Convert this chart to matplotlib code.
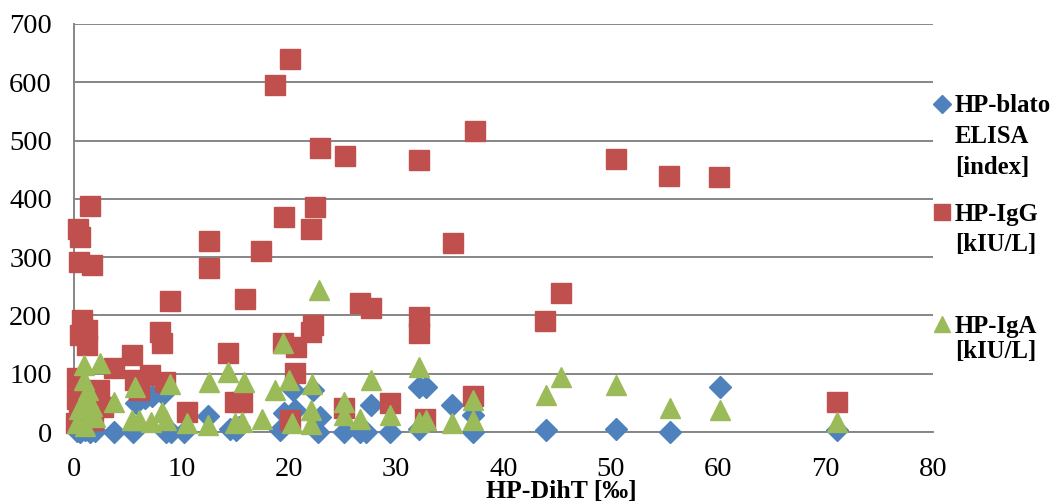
import matplotlib
matplotlib.use("Agg")
import matplotlib.pyplot as plt
from matplotlib.lines import Line2D

# ---------------- data ----------------
elisa_x = [0.3, 0.6, 1.0, 1.5, 2.0, 1.2, 3.7, 5.5, 5.8, 6.6, 7.3, 8.3, 8.6, 9.0,
           10.2, 12.5, 14.5, 15.1, 15.4, 19.2, 19.6, 20.4, 20.6, 22.3, 22.9, 22.7,
           25.1, 26.6, 27.2, 27.7, 29.4, 32.1, 32.8, 32.1, 35.2, 37.2, 37.2, 44.0,
           50.5, 55.5, 60.2, 71.1]
elisa_y = [2, 0, 3, 0, 2, 6, 0, 0, 49, 58, 62, 66, 0, 0,
           0, 28, 5, 3, 8, 3, 32, 72, 38, 72, 26, 0,
           0, 0, 0, 46, 0, 78, 77, 6, 46, 29, 0, 3,
           5, 0, 77, 3]

igg_x = [0.4, 0.56, 0.47, 1.65, 1.5, 0.7, 0.56, 1.2, 1.2, 0.25, 0.3, 0.5, 0.2,
         1.0, 1.5, 2.0, 2.3, 2.7, 1.8, 3.7, 5.4, 5.7, 6.1, 7.1, 8.5, 8.0, 8.2,
         8.9, 10.5, 12.6, 12.6, 14.3, 15.0, 15.6, 15.9, 17.4, 18.7, 19.5, 19.6,
         20.1, 20.6, 20.7, 20.1, 22.1, 22.4, 22.3, 22.1, 22.9, 25.2, 25.1, 26.6,
         27.7, 29.4, 32.1, 32.1, 32.1, 32.7, 35.3, 37.3, 37.2, 43.9, 45.4, 50.5,
         55.4, 60.1, 71.1]
igg_y = [349, 335, 292, 286, 388, 192, 166, 175, 149, 92, 56, 35, 15,
         60, 45, 55, 72, 43, 20, 109, 132, 89, 72, 98, 86, 172, 152,
         224, 35, 328, 281, 136, 52, 52, 228, 311, 596, 152, 369,
         640, 101, 146, 21, 349, 386, 183, 172, 487, 473, 41, 222,
         212, 49, 466, 197, 169, 23, 325, 517, 61, 191, 238, 468,
         439, 437, 51]

iga_x = [0.9, 2.4, 0.9, 1.3, 1.0, 0.5, 1.5, 0.3, 1.0, 2.0, 1.7, 3.7, 5.7, 5.4,
         6.1, 7.2, 8.2, 8.6, 8.9, 10.5, 12.6, 12.5, 14.3, 15.0, 15.6, 15.8, 17.5,
         18.7, 19.5, 20.0, 20.3, 22.2, 22.1, 22.1, 22.8, 25.1, 25.1, 26.6, 27.7,
         29.4, 32.1, 32.1, 32.8, 35.2, 37.2, 37.2, 44.0, 45.4, 50.5, 55.5, 60.2,
         71.1]
iga_y = [115, 118, 89, 72, 55, 40, 30, 15, 10, 25, 45, 52, 78, 21,
         21, 18, 35, 21, 83, 15, 86, 12, 103, 15, 17, 85, 23,
         72, 152, 89, 15, 83, 38, 14, 243, 52, 29, 23, 89,
         29, 112, 18, 21, 15, 55, 21, 63, 95, 81, 41, 38,
         18]

x_ticks = [0, 10, 20, 30, 40, 50, 60, 70, 80]
y_ticks = [0, 100, 200, 300, 400, 500, 600, 700]

legend_lines = [["HP-blato", "ELISA", "[index]"],
                ["HP-IgG", "[kIU/L]"],
                ["HP-IgA", "[kIU/L]"]]
x_label = "HP-DihT [\u2030]"

# ---------------- style ----------------
BLUE = "#4F81BD"
RED = "#C0504D"
GREEN = "#9BBB59"
GRID = "#868686"
SERIF = ["Liberation Serif", "DejaVu Serif"]

W, H = 1061, 503
fig = plt.figure(figsize=(W / 100, H / 100), dpi=100)
ax = fig.add_axes([74 / W, 1 - 432 / H, (933 - 74) / W, (432 - 24) / H])

ax.plot(elisa_x, elisa_y, linestyle="none", marker="D", ms=10.7,
        color=BLUE, mec=BLUE, clip_on=False, zorder=3)
ax.plot(igg_x, igg_y, linestyle="none", marker="s", ms=14.2,
        color=RED, mec=RED, clip_on=False, zorder=4)
ax.plot(iga_x, iga_y, linestyle="none", marker="^", ms=14.6,
        color=GREEN, mec=GREEN, clip_on=False, zorder=5)

ax.set_xlim(0, 80)
ax.set_ylim(0, 700)
ax.set_xticks(x_ticks)
ax.set_yticks(y_ticks)
ax.set_xticklabels([str(t) for t in x_ticks], family=SERIF, fontsize=20.5)
ax.set_yticklabels([str(t) for t in y_ticks], family=SERIF, fontsize=20.5)
ax.tick_params(axis="both", length=0)
ax.tick_params(axis="y", pad=16)
ax.tick_params(axis="x", pad=18)

ax.grid(axis="y", color=GRID, linewidth=1.4, zorder=1)
ax.set_axisbelow(True)
for s in ["top", "right"]:
    ax.spines[s].set_visible(False)
for s in ["left", "bottom"]:
    ax.spines[s].set_color(GRID)
    ax.spines[s].set_linewidth(1.4)
    ax.spines[s].set_zorder(1)

# x label (Excel places it off-centre, partly clipped)
fig.text(561 / W, 1 - 498 / H, x_label, ha="center", va="baseline",
         family=SERIF, fontsize=18.5, fontweight="bold")

# ---------------- legend (manual) ----------------
handles = [("D", BLUE, 8.8, 104), ("s", RED, 12.0, 212), ("^", GREEN, 12.2, 324)]
for m, c, ms, yy in handles:
    fig.add_artist(Line2D([942 / W], [1 - yy / H], marker=m, ms=ms, color=c,
                          mec=c, linestyle="none", transform=fig.transFigure))
baselines = [[111.5, 143, 174], [221.5, 251.5], [332.5, 358]]
for lines, bls in zip(legend_lines, baselines):
    for txt, b in zip(lines, bls):
        fig.text(955 / W, 1 - b / H, txt, ha="left", va="baseline",
                 family=SERIF, fontsize=17.8, fontweight="bold")

fig.savefig("out.png", dpi=100)
